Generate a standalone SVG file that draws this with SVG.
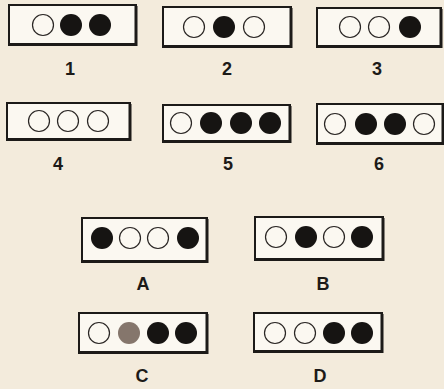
<svg xmlns="http://www.w3.org/2000/svg" width="444" height="389" viewBox="0 0 444 389">
<style>
.bx{fill:#fbf8f1;stroke:#1c1a18;stroke-width:2}
.sh{fill:none;stroke:#1c1a18;stroke-width:3}
.w{fill:#fbf8f1;stroke:#2a2624;stroke-width:1.2}
.k{fill:#161412}
.g{fill:#85766c}
.lb{font-family:"Liberation Sans",Arial,sans-serif;font-weight:bold;font-size:18px;fill:#1c1a18;text-anchor:middle}
</style>
<rect width="444" height="389" fill="#f3ebdc"/>
<g id="n1">
<rect class="bx" x="9" y="5" width="127" height="40"/><path class="sh" d="M10 44.5H136V6"/>
<circle class="w" cx="43" cy="25" r="10.5"/><circle class="k" cx="71" cy="25" r="11"/><circle class="k" cx="100" cy="25" r="11"/>
<text class="lb" x="70" y="75">1</text>
</g>
<g id="n2">
<rect class="bx" x="163" y="7" width="128" height="40"/><path class="sh" d="M164 46.5H291V8"/>
<circle class="w" cx="194" cy="27" r="10.5"/><circle class="k" cx="224" cy="27" r="11"/><circle class="w" cx="254" cy="27" r="10.5"/>
<text class="lb" x="227" y="75">2</text>
</g>
<g id="n3">
<rect class="bx" x="317" y="8" width="124" height="39"/><path class="sh" d="M318 46.5H441V9"/>
<circle class="w" cx="350" cy="27" r="10.5"/><circle class="w" cx="379" cy="27" r="10.5"/><circle class="k" cx="410" cy="27" r="11"/>
<text class="lb" x="377" y="75">3</text>
</g>
<g id="n4">
<rect class="bx" x="7" y="103" width="123" height="37"/><path class="sh" d="M8 139.5H130V104"/>
<circle class="w" cx="39" cy="121" r="10.5"/><circle class="w" cx="68" cy="121" r="10.5"/><circle class="w" cx="98" cy="121" r="10.5"/>
<text class="lb" x="58" y="170">4</text>
</g>
<g id="n5">
<rect class="bx" x="163" y="105" width="127" height="37"/><path class="sh" d="M164 141.5H290V106"/>
<circle class="w" cx="181" cy="123" r="10.5"/><circle class="k" cx="211" cy="123" r="11"/><circle class="k" cx="241" cy="123" r="11"/><circle class="k" cx="270" cy="123" r="11"/>
<text class="lb" x="228" y="170">5</text>
</g>
<g id="n6">
<rect class="bx" x="317" y="104" width="126" height="40"/><path class="sh" d="M318 143.5H443V105"/>
<circle class="w" cx="335" cy="124" r="10.5"/><circle class="k" cx="366" cy="124" r="11"/><circle class="k" cx="395" cy="124" r="11"/><circle class="w" cx="424" cy="124" r="10.5"/>
<text class="lb" x="379" y="170">6</text>
</g>
<g id="nA">
<rect class="bx" x="82" y="218" width="125" height="44"/><path class="sh" d="M83 261.5H207V219"/>
<circle class="k" cx="102" cy="238" r="11"/><circle class="w" cx="130" cy="238" r="10.5"/><circle class="w" cx="158" cy="238" r="10.5"/><circle class="k" cx="188" cy="238" r="11"/>
<text class="lb" x="143" y="290">A</text>
</g>
<g id="nB">
<rect class="bx" x="255" y="217" width="128" height="43"/><path class="sh" d="M256 259.5H383V218"/>
<circle class="w" cx="276" cy="237" r="10.5"/><circle class="k" cx="306" cy="237" r="11"/><circle class="w" cx="334" cy="237" r="10.5"/><circle class="k" cx="362" cy="237" r="11"/>
<text class="lb" x="323" y="290">B</text>
</g>
<g id="nC">
<rect class="bx" x="79" y="313" width="128" height="40"/><path class="sh" d="M80 352.5H207V314"/>
<circle class="w" cx="99" cy="333" r="10.5"/><circle class="g" cx="129" cy="333" r="11"/><circle class="k" cx="158" cy="333" r="11"/><circle class="k" cx="186" cy="333" r="11"/>
<text class="lb" x="142" y="382">C</text>
</g>
<g id="nD">
<rect class="bx" x="254" y="313" width="128" height="39"/><path class="sh" d="M255 351.5H382V314"/>
<circle class="w" cx="275" cy="333" r="10.5"/><circle class="w" cx="305" cy="333" r="10.5"/><circle class="k" cx="334" cy="333" r="11"/><circle class="k" cx="362" cy="333" r="11"/>
<text class="lb" x="320" y="382">D</text>
</g>
</svg>
